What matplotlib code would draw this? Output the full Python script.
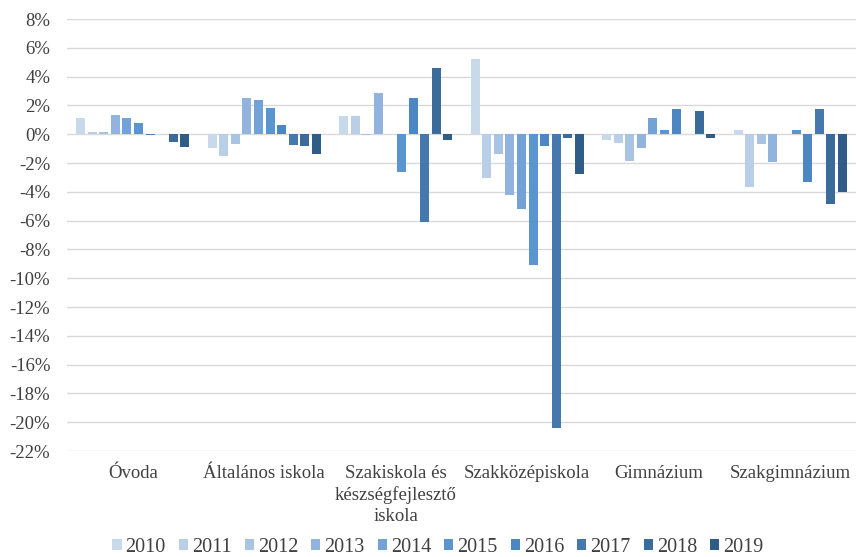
import numpy as np
import matplotlib.pyplot as plt
from matplotlib.ticker import FuncFormatter

plt.rcParams['font.family'] = ['Liberation Serif', 'DejaVu Serif']

categories = ['Óvoda', 'Általános iskola', 'Szakiskola és\nkészségfejlesztő\niskola',
              'Szakközépiskola', 'Gimnázium', 'Szakgimnázium']
years = ['2010', '2011', '2012', '2013', '2014', '2015', '2016', '2017', '2018', '2019']

# percent change per year, rows = years, cols = categories
v2010 = [1.14, -0.95, 1.24, 5.22, -0.39, 0.28]
v2011 = [0.12, -1.49, 1.26, -3.03, -0.60, -3.70]
v2012 = [0.16, -0.65, -0.07, -1.38, -1.86, -0.71]
v2013 = [1.35, 2.51, 2.83, -4.23, -0.97, -1.93]
v2014 = [1.14, 2.37, 0.03, -5.20, 1.13, 0.0]
v2015 = [0.77, 1.81, -2.60, -9.06, 0.28, 0.30]
v2016 = [-0.09, 0.67, 2.50, -0.85, 1.75, -3.33]
v2017 = [-0.02, -0.74, -6.07, -20.4, 0.0, 1.77]
v2018 = [-0.56, -0.84, 4.57, -0.23, 1.63, -4.87]
v2019 = [-0.88, -1.40, -0.37, -2.76, -0.28, -3.98]
values = [v2010, v2011, v2012, v2013, v2014, v2015, v2016, v2017, v2018, v2019]

colors = ['#c9d9ec', '#b9cfe8', '#a9c3e3', '#92b3dd', '#73a2d6', '#5a95cf',
          '#4c87c3', '#4579ae', '#3b6b9b', '#305d88']

fig = plt.figure(figsize=(8.56, 5.57), dpi=100)
ax = fig.add_axes([67/856, 1 - 451/557, (856 - 67)/856, 432/557])

x = np.arange(len(categories))
step = 0.088
w = 0.068
for i, yr in enumerate(years):
    off = (i - 4.5) * step
    ax.bar(x + off, np.array(values[i]) / 100, w, color=colors[i], label=yr, zorder=3)

ax.set_xlim(-0.5, len(categories) - 0.5)
ax.set_ylim(-0.22, 0.08)
ax.set_yticks(np.arange(-0.22, 0.081, 0.02))
ax.yaxis.set_major_formatter(FuncFormatter(lambda v, p: f'{round(v*100):d}%'))
ax.grid(axis='y', color='#d9d9d9', linewidth=1, zorder=0)
for s in ax.spines.values():
    s.set_visible(False)
ax.tick_params(length=0, labelsize=13.5, colors='#404040')
ax.tick_params(axis='y', pad=12)
ax.tick_params(axis='x', pad=10)
ax.set_xticks(x)
ax.set_xticklabels(categories, fontsize=13.5, linespacing=1.3, va='top')

fig.legend(*ax.get_legend_handles_labels(), loc='center',
           bbox_to_anchor=(438/856, 1 - 547/557), ncol=10, frameon=False,
           fontsize=14.5, handlelength=0.45, handleheight=0.45, handletextpad=0.2,
           columnspacing=0.65, labelcolor='#404040')

fig.savefig('out.png', dpi=100)
